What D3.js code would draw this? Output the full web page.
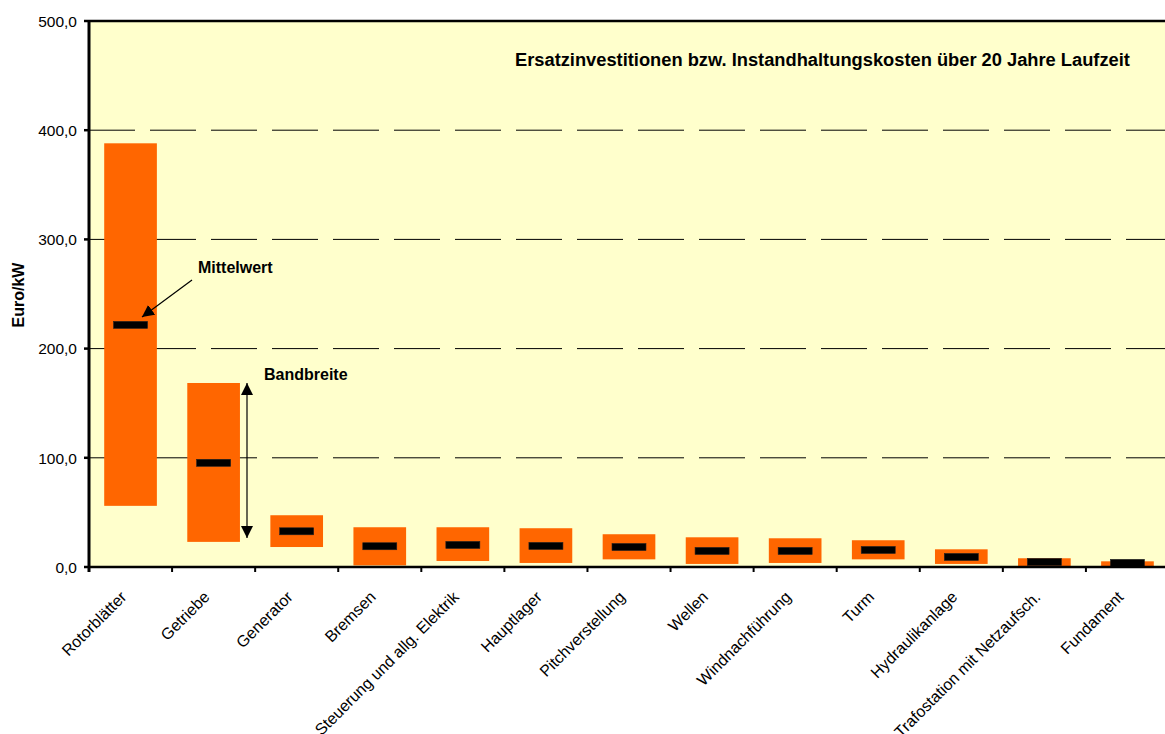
<!DOCTYPE html>
<meta charset="utf-8">
<head>
<style>
  body { margin: 0; background: #fff; }
  text { font-family: "Liberation Sans", Arial, sans-serif; fill: #000; }
  .grid line { stroke: #000; stroke-width: 1; stroke-dasharray: 46,15; }
  .ylab { font-size: 15.5px; }
  .xlab { font-size: 16px; }
  .bold { font-weight: bold; }
</style>
<script src="https://cdn.jsdelivr.net/npm/d3@7"></script>
</head>
<body>
<script>
// Werte (Euro/kW)
var categories = ["Rotorblätter", "Getriebe", "Generator", "Bremsen",
  "Steuerung und allg. Elektrik", "Hauptlager", "Pitchverstellung", "Wellen",
  "Windnachführung", "Turm", "Hydraulikanlage", "Trafostation mit Netzaufsch.", "Fundament"];
var minValues  = [56, 23, 18.3, 1.5, 5.5, 3.7, 7, 2.8, 3.7, 7, 2.8, 0.5, 0.5];
var maxValues  = [388, 168.5, 47.4, 36.4, 36.4, 35.5, 30, 27.2, 26.3, 24.5, 16.2, 8, 5.2];
var meanValues = [221.7, 95.4, 32.7, 19, 20.2, 19.3, 18.3, 14.7, 14.7, 15.6, 9.2, 4.6, 3.8];
var yTicks = [0, 100, 200, 300, 400, 500];

var width = 1165, height = 734;
var plotLeft = 89, plotRight = 1169, plotTop = 21, plotBottom = 567;

var svg = d3.select("body").append("svg")
    .attr("width", width)
    .attr("height", height);

var x = d3.scaleBand().domain(categories).range([plotLeft, plotRight]).padding(0);
var y = d3.scaleLinear().domain([0, 500]).range([plotBottom, plotTop]);
var fmt = function(v) { return d3.format(".1f")(v).replace(".", ","); };

// plot background
svg.append("rect")
    .attr("x", plotLeft).attr("y", plotTop)
    .attr("width", plotRight - plotLeft).attr("height", plotBottom - plotTop)
    .attr("fill", "#ffffcc");

// dashed gridlines
svg.append("g").attr("class", "grid")
  .selectAll("line")
  .data(yTicks.filter(function(d) { return d > 0 && d < 500; }))
  .enter().append("line")
    .attr("x1", plotLeft).attr("x2", plotRight)
    .attr("y1", function(d) { return y(d); })
    .attr("y2", function(d) { return y(d); });

// top border
svg.append("line")
    .attr("x1", plotLeft).attr("x2", plotRight)
    .attr("y1", plotTop).attr("y2", plotTop)
    .attr("stroke", "#000").attr("stroke-width", 2.5);

// range bars
var bw = x.bandwidth() * 0.634;
svg.append("g").selectAll("rect")
  .data(categories)
  .enter().append("rect")
    .attr("x", function(d) { return x(d) + (x.bandwidth() - bw) / 2; })
    .attr("width", bw)
    .attr("y", function(d, i) { return y(maxValues[i]); })
    .attr("height", function(d, i) { return y(minValues[i]) - y(maxValues[i]); })
    .attr("fill", "#ff6600");

// mean markers
var mw = 34, mh = 7;
svg.append("g").selectAll("rect")
  .data(categories)
  .enter().append("rect")
    .attr("x", function(d) { return x(d) + (x.bandwidth() - mw) / 2; })
    .attr("width", mw)
    .attr("y", function(d, i) { return Math.min(y(meanValues[i]) - mh / 2, plotBottom - mh); })
    .attr("height", mh)
    .attr("fill", "#000")
    .attr("stroke", "#222").attr("stroke-width", 0.6);

// x axis
var xAxis = svg.append("g");
xAxis.append("line")
    .attr("x1", plotLeft).attr("x2", plotRight)
    .attr("y1", plotBottom).attr("y2", plotBottom)
    .attr("stroke", "#000").attr("stroke-width", 2.5);
xAxis.selectAll(".tick")
  .data(categories)
  .enter().append("line")
    .attr("x1", function(d) { return x(d); })
    .attr("x2", function(d) { return x(d); })
    .attr("y1", plotBottom).attr("y2", plotBottom + 5)
    .attr("stroke", "#000").attr("stroke-width", 2);
xAxis.selectAll("text")
  .data(categories)
  .enter().append("text")
    .attr("class", "xlab")
    .attr("text-anchor", "end")
    .attr("transform", function(d) {
      return "translate(" + (x(d) + x.bandwidth() / 2 - 3) + "," + (plotBottom + 31) + ") rotate(-45)";
    })
    .text(function(d) { return d; });

// y axis
var yAxis = svg.append("g");
yAxis.append("line")
    .attr("x1", plotLeft).attr("x2", plotLeft)
    .attr("y1", plotTop - 1).attr("y2", plotBottom + 5)
    .attr("stroke", "#000").attr("stroke-width", 3);
yAxis.selectAll(".tick")
  .data(yTicks)
  .enter().append("line")
    .attr("x1", plotLeft - 5).attr("x2", plotLeft)
    .attr("y1", function(d) { return y(d); })
    .attr("y2", function(d) { return y(d); })
    .attr("stroke", "#000").attr("stroke-width", 2.5);
yAxis.selectAll("text")
  .data(yTicks)
  .enter().append("text")
    .attr("class", "ylab")
    .attr("text-anchor", "end")
    .attr("x", 77)
    .attr("y", function(d) { return y(d) + 5.8; })
    .text(fmt);

svg.append("text")
    .attr("class", "bold")
    .attr("font-size", 16)
    .attr("text-anchor", "middle")
    .attr("transform", "translate(24,295) rotate(-90)")
    .text("Euro/kW");

// title
svg.append("text")
    .attr("class", "bold")
    .attr("font-size", 18.3)
    .attr("x", 515).attr("y", 66)
    .text("Ersatzinvestitionen bzw. Instandhaltungskosten über 20 Jahre Laufzeit");

// annotations
var defs = svg.append("defs");
defs.append("marker")
    .attr("id", "arrow")
    .attr("viewBox", "0 0 10 10")
    .attr("refX", 10).attr("refY", 5)
    .attr("markerWidth", 12).attr("markerHeight", 12)
    .attr("markerUnits", "userSpaceOnUse")
    .attr("orient", "auto-start-reverse")
  .append("path")
    .attr("d", "M0,0L10,5L0,10Z")
    .attr("fill", "#000");

svg.append("text")
    .attr("class", "bold")
    .attr("font-size", 16)
    .attr("x", 198).attr("y", 273)
    .text("Mittelwert");
svg.append("line")
    .attr("x1", 192).attr("y1", 280)
    .attr("x2", 142).attr("y2", 317)
    .attr("stroke", "#000").attr("stroke-width", 1.2)
    .attr("marker-end", "url(#arrow)");

svg.append("text")
    .attr("class", "bold")
    .attr("font-size", 16)
    .attr("x", 264).attr("y", 380)
    .text("Bandbreite");
svg.append("line")
    .attr("x1", 247).attr("y1", y(maxValues[1]))
    .attr("x2", 247).attr("y2", 538)
    .attr("stroke", "#000").attr("stroke-width", 1.2)
    .attr("marker-start", "url(#arrow)")
    .attr("marker-end", "url(#arrow)");
</script>
</body>
